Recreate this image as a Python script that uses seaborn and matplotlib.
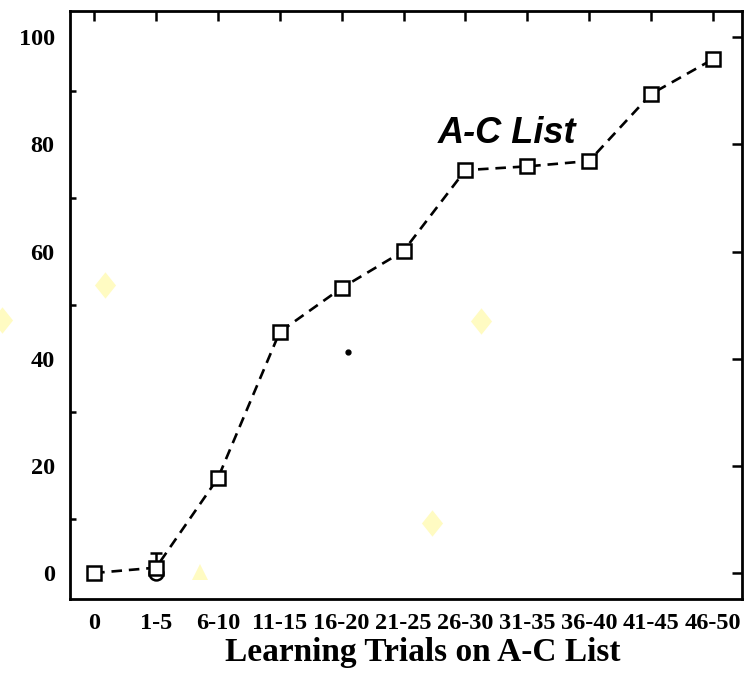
import numpy as np
import pandas as pd
import seaborn as sns
from matplotlib import pyplot as plt
from matplotlib.ticker import MultipleLocator

# learning curve on the A-C list
trials = ["0", "1-5", "6-10", "11-15", "16-20", "21-25", "26-30",
          "31-35", "36-40", "41-45", "46-50"]
pct = [0, 1, 17.7, 45, 53.2, 60.1, 75.2, 75.9, 76.9, 89.4, 95.9]

# extra marks around the 1-5 point (error bar + lower marker)
err_up = 2.8
lower_mark = 0

# pale yellow scan marks (x in category index, y in data units)
mark_x = [-1.49, 0.18, 5.46, 6.25]
mark_y = [47.2, 53.7, 9.3, 47.0]
blob_x = [4.1]
blob_y = [41.2]

df = pd.DataFrame({"x": np.arange(len(trials)), "pct": pct})

sns.set_style("white")
plt.rcParams["font.family"] = ["Liberation Serif", "DejaVu Serif"]
for k in ["text.color", "axes.labelcolor", "xtick.color", "ytick.color"]:
    plt.rcParams[k] = "black"

fig, ax = plt.subplots(figsize=(7.51, 6.78), dpi=100)
fig.subplots_adjust(left=70 / 751, right=742 / 751, top=1 - 11 / 678, bottom=1 - 599 / 678)

# background marks
diamond = [(0, 1.25), (1, 0), (0, -1.25), (-1, 0), (0, 1.25)]
ax.plot(mark_x, mark_y, linestyle="none", marker=diamond, markersize=19,
        color="#fffbc2", markeredgewidth=0, clip_on=False, zorder=1)
ax.plot([1.71], [0.2], linestyle="none", marker="^", markersize=11,
        color="#fffbc2", markeredgewidth=0, zorder=1)
ax.plot(blob_x, blob_y, linestyle="none", marker="o", markersize=3.5,
        color="black", zorder=1)

ax.plot([1], [lower_mark], linestyle="none", marker="o", markersize=10,
        markerfacecolor="white", markeredgecolor="black", markeredgewidth=1.8, zorder=2)
ax.errorbar([1], [pct[1]], yerr=[[0], [err_up]], fmt="none", ecolor="black",
            elinewidth=1.8, capsize=4, capthick=1.8, zorder=2)

sns.lineplot(data=df, x="x", y="pct", ax=ax, color="black", linestyle=(0, (4, 2.6)),
             linewidth=1.9, marker="s", markersize=10, markerfacecolor="white",
             markeredgecolor="black", markeredgewidth=1.8, zorder=3)

ax.set_xlim(-0.39, 10.47)
ax.set_ylim(-4.85, 104.9)
ax.set_xticks(df["x"])
ax.set_xticklabels(trials)
ax.yaxis.set_major_locator(MultipleLocator(20))
ax.yaxis.set_minor_locator(MultipleLocator(10))
ax.tick_params(axis="both", which="major", direction="in", length=7, width=1.8,
               labelsize=17.5, top=True, right=True)
ax.tick_params(axis="x", which="major", pad=10)
ax.tick_params(axis="y", which="major", pad=11)
ax.tick_params(axis="y", which="minor", direction="in", length=4, width=1.8, left=True)
for lbl in ax.get_xticklabels() + ax.get_yticklabels():
    lbl.set_fontweight("bold")

for s in ax.spines.values():
    s.set_linewidth(2)
    s.set_color("black")

ax.set_xlabel("Learning Trials on A-C List", fontsize=24, fontweight="bold")
ax.xaxis.set_label_coords(0.525, -0.064)
ax.set_ylabel("")

ax.text(5.55, 80.3, "A-C List", fontsize=26, fontweight="bold", fontstyle="italic",
        family=["Liberation Sans", "DejaVu Sans"], ha="left", va="baseline")

plt.savefig("out.png", dpi=100)
plt.close()
